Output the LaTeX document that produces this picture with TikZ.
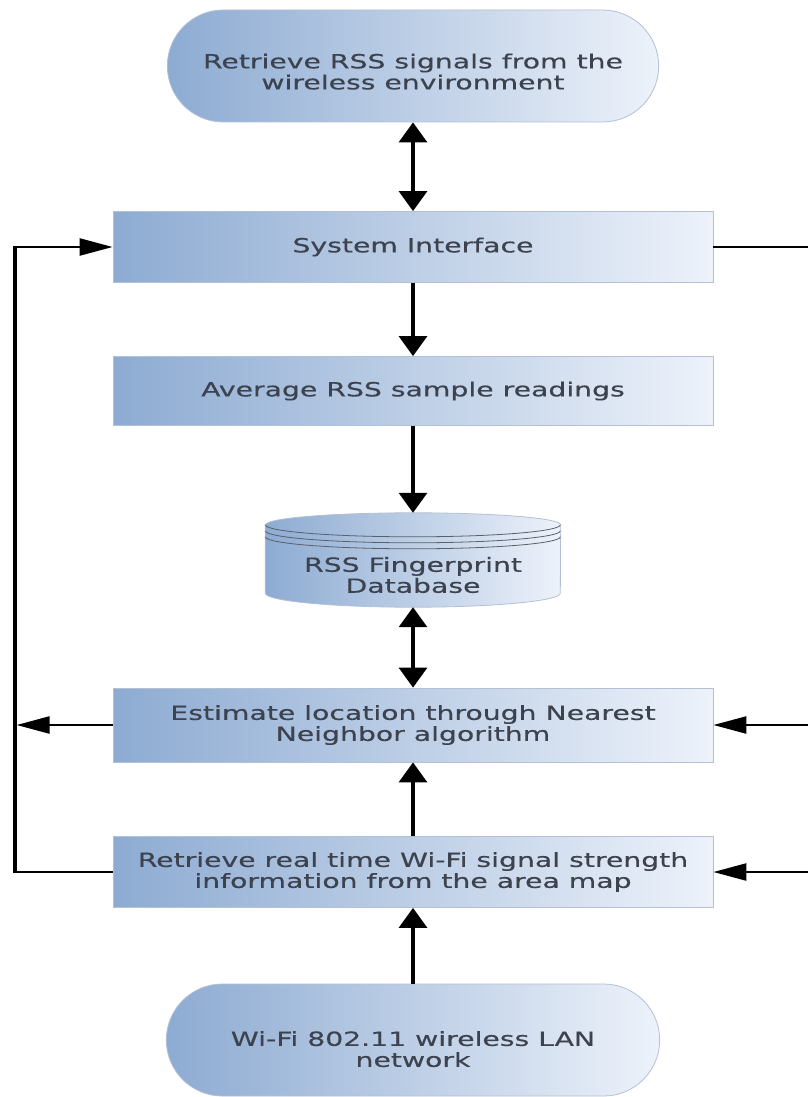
\documentclass[tikz,border=0pt]{standalone}
\usepackage{fontspec}
\setmainfont{DejaVu Sans}[FakeStretch=1.45, FakeBold=0.4]
\usetikzlibrary{arrows.meta,shapes.misc}
\definecolor{boxl}{RGB}{141,171,210}
\definecolor{boxr}{RGB}{237,242,250}
\definecolor{edgec}{RGB}{180,192,212}
\definecolor{txtc}{RGB}{60,66,78}
\tikzset{
  base/.style={draw=edgec, line width=0.8pt, left color=boxl, right color=boxr,
    text=txtc, font=\fontsize{19.5}{21}\selectfont, align=center},
  stepbox/.style={base, rectangle, minimum width=600pt, minimum height=71pt},
  term/.style={base, rounded rectangle, rounded rectangle arc length=180,
    minimum width=498pt, minimum height=112pt, text height=47pt},
  vline/.style={line width=3.2pt, -{Triangle[width=28pt,length=20pt]}},
  dline/.style={line width=3.2pt, {Triangle[width=28pt,length=20pt]}-{Triangle[width=28pt,length=20pt]}},
  hline/.style={line width=2.4pt},
  harr/.style={hline, -{Triangle[width=17pt,length=33pt]}}
}

\begin{document}
\begin{tikzpicture}[x=1pt,y=1pt]
    \path[use as bounding box, clip] (0,0) rectangle (808,-1097);
    \fill[white] (0,0) rectangle (808,-1097);
    % boxes
    \node[term] (top) at (413,-66) {Retrieve RSS signals from the\\wireless environment};
    \node[stepbox] (si) at (413,-247) {System Interface};
    \node[stepbox, minimum height=69pt] (avg) at (413,-391) {Average RSS sample readings};
    \node[minimum width=295pt, minimum height=94pt, inner sep=0pt] (db) at (413,-560) {};
    \node[stepbox, minimum height=74pt] (est) at (413,-725) {Estimate location through Nearest\\Neighbor algorithm};
    \node[stepbox] (rt) at (413,-872) {Retrieve real time Wi-Fi signal strength\\information from the area map};
    \node[term, minimum width=500pt, text height=54pt] (wifi) at (413,-1040) {Wi-Fi 802.11 wireless LAN\\network};
    % database cylinder
    \shade[left color=boxl, right color=boxr, draw=edgec, line width=0.8pt]
      ([yshift=-12pt]db.north west) -- ([yshift=14pt]db.south west)
      arc[start angle=180, end angle=360, x radius=147.5, y radius=14]
      -- ([yshift=-12pt]db.north east)
      arc[start angle=0, end angle=180, x radius=147.5, y radius=12] -- cycle;
    \foreach \d in {12,18,24}
      \draw[edgec!50!black, line width=0.8pt] ([yshift=-\d pt]db.north west)
        arc[start angle=180, end angle=360, x radius=147.5, y radius=12];
    \node[text=txtc, font=\fontsize{19.5}{21}\selectfont, align=center] (dbt)
      at ([yshift=-15pt]db.center) {RSS Fingerprint\\Database};
    % main flow
    \draw[dline] (top.south) -- (si.north);
    \draw[vline] (si.south) -- (avg.north);
    \draw[vline] (avg.south) -- (db.north);
    \draw[dline] (db.south) -- (est.north);
    \draw[vline] (rt.north) -- (est.south);
    \draw[vline] (wifi.north) -- (rt.south);
    % feedback lines
    \coordinate (lx) at (15,0);
    \coordinate (rx) at (812,0);
    \draw[line width=3.2pt] (lx |- rt.west) -- (lx |- si.west);
    \draw[hline] (rt.west) -- ([xshift=-1.6pt]lx |- rt.west);
    \draw[harr] ([xshift=-1.6pt]lx |- si.west) -- (si.west);
    \draw[harr] (est.west) -- ([xshift=1.6pt]lx |- est.west);
    \draw[hline] (si.east) -| (rx |- rt.east);
    \draw[harr] (rx |- est.east) -- (est.east);
    \draw[harr] (rx |- rt.east) -- (rt.east);
\end{tikzpicture}
\end{document}
